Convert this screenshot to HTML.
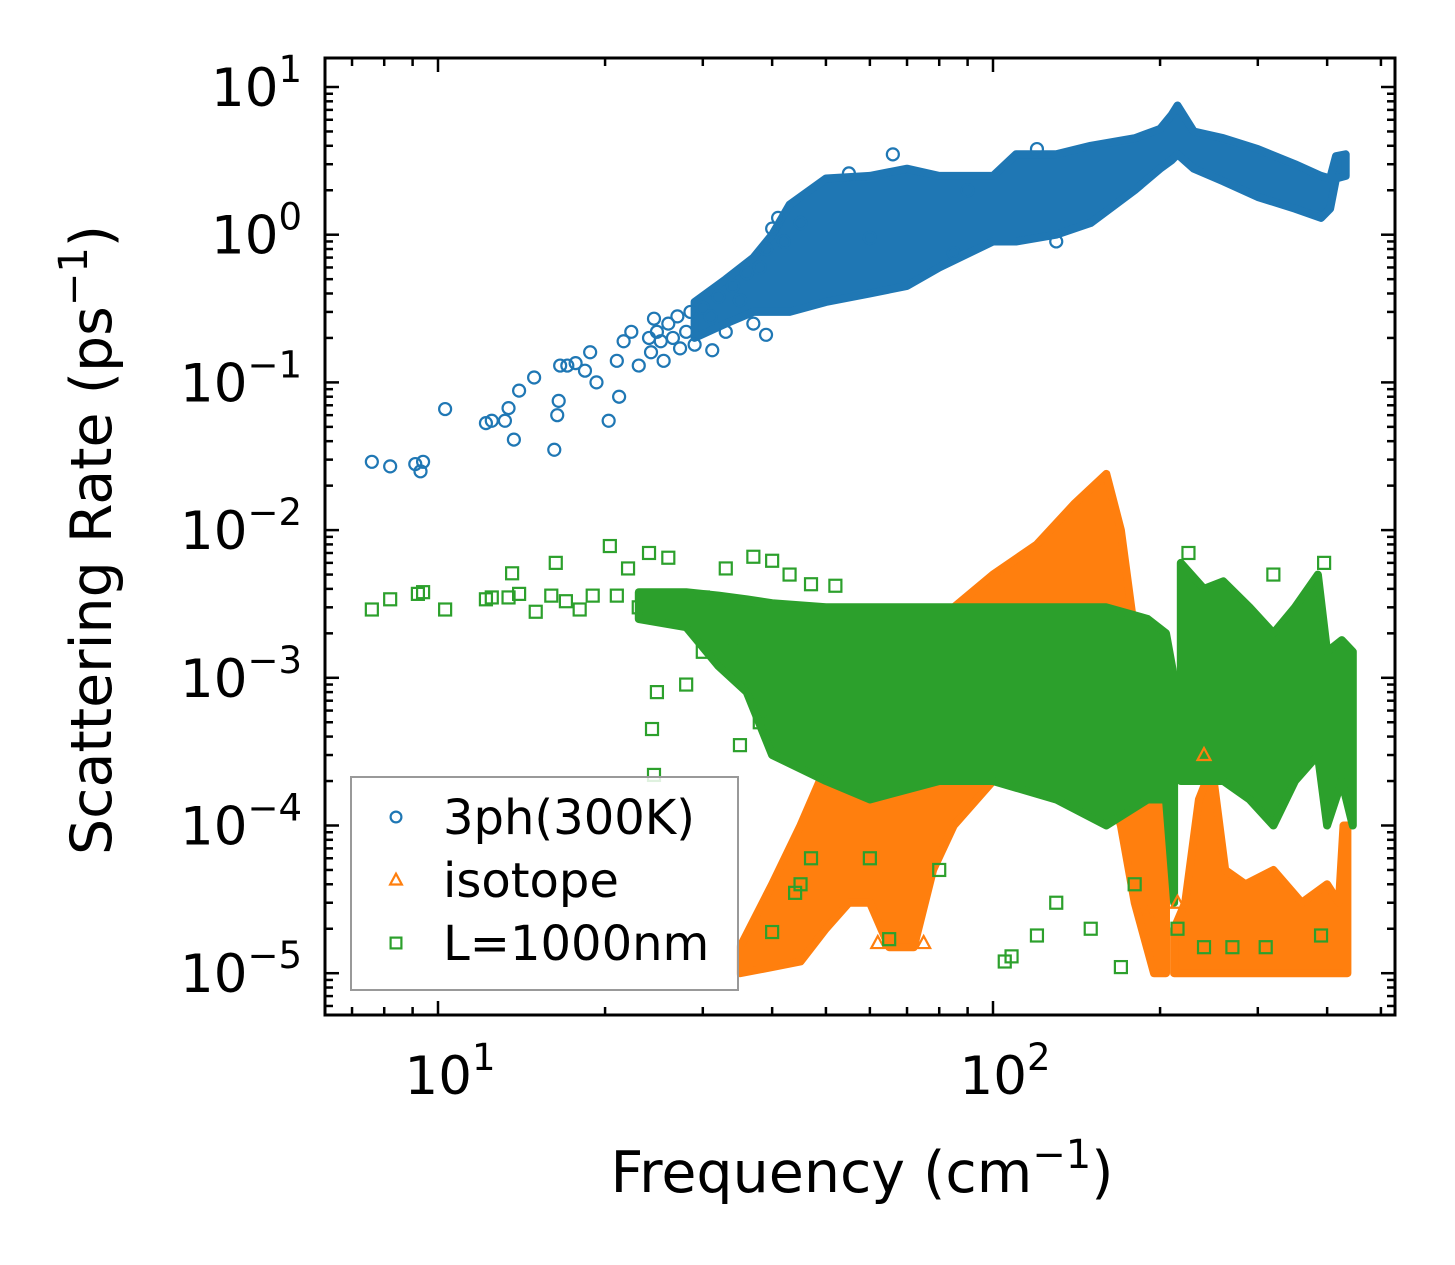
<!DOCTYPE html>
<html><head><meta charset="utf-8"><style>
html,body{margin:0;padding:0;background:#fff;}
svg{display:block;font-family:"DejaVu Sans","Liberation Sans",sans-serif;}
</style></head><body>
<svg id="chart" width="1455" height="1265" viewBox="0 0 1455 1265">
<g id="bands"></g>
<g id="marks"></g>
<g id="axes"></g>
<g id="legend"></g>
</svg>
<script>
// ---- data ----
const blueBand = [[29,0.2,0.35],[33,0.25,0.5],[37,0.3,0.7],[40,0.3,1.0],[43,0.3,1.6],[50,0.35,2.4],[60,0.4,2.5],[70,0.45,2.8],[80,0.6,2.5],[100,0.9,2.5],[110,0.9,3.5],[130,1.0,3.5],[150,1.2,4.0],[180,2.0,4.5],[200,2.8,5.2],[210,3.2,6.5],[215,3.5,7.5],[230,2.8,5.0],[260,2.3,4.5],[300,1.8,3.8],[350,1.5,3.0],[390,1.3,2.5],[405,1.5,2.4],[415,2.4,3.4],[432,2.5,3.5]];
const bluePts = [[7.6,0.029],[8.2,0.027],[9.1,0.028],[9.3,0.025],[9.4,0.029],[10.3,0.066],[12.2,0.053],[12.5,0.055],[13.2,0.055],[13.4,0.067],[13.7,0.041],[14,0.088],[14.9,0.108],[16.2,0.035],[16.4,0.06],[16.5,0.075],[16.6,0.13],[17.1,0.13],[17.7,0.135],[18.4,0.12],[18.8,0.16],[19.3,0.1],[20.3,0.055],[21,0.14],[21.2,0.08],[21.6,0.19],[22.3,0.22],[23,0.13],[24,0.2],[24.5,0.27],[25.5,0.14],[27.3,0.17],[31.2,0.165],[39,0.21],[24.2,0.16],[24.8,0.22],[25.2,0.19],[26,0.25],[26.5,0.2],[27,0.28],[28,0.22],[28.5,0.3],[29,0.18],[30,0.32],[31,0.28],[32,0.38],[33,0.22],[34,0.45],[35,0.36],[36,0.55],[37,0.25],[38,0.6],[39,0.8],[40,1.1],[41,1.3],[42,0.9],[60,0.95],[66,3.5],[85,0.75],[130,0.9],[45,1.2],[55,2.6],[90,2.0],[120,3.8]];
const orangeBand = [[35,1.0e-5,1.5e-5],[40,1.1e-5,4e-5],[45,1.2e-5,1e-4],[50,2e-5,2.5e-4],[55,3e-5,5e-4],[60,3e-5,4e-4],[65,1.5e-5,5e-4],[72,1.5e-5,6e-4],[78,5e-5,8e-4],[85,1e-4,3e-3],[100,2e-4,5e-3],[120,3e-4,8e-3],[140,3e-4,1.5e-2],[160,2e-4,2.4e-2],[170,1e-4,1e-2],[180,3e-5,2e-3],[195,1e-5,5e-4],[205,1e-5,1e-4]];
const orangeBand2 = [[212,1e-5,2e-5],[222,1e-5,3e-5],[235,1e-5,1.5e-4],[248,1e-5,2.5e-4],[262,1e-5,5e-5],[285,1e-5,4e-5],[320,1e-5,5e-5],[360,1e-5,3e-5],[400,1e-5,4e-5],[420,1e-5,3e-5],[428,1e-5,1e-4],[435,1e-5,1e-4]];
const orangePts = [[62,1.6e-5],[75,1.6e-5],[190,2.5e-5],[200,1.8e-5],[215,3e-5],[240,3e-4]];
const greenBand = [[23,2.5e-3,3.8e-3],[28,2.2e-3,3.8e-3],[32,1.2e-3,3.6e-3],[36,8e-4,3.4e-3],[40,3e-4,3.2e-3],[50,2e-4,3e-3],[60,1.5e-4,3e-3],[80,2e-4,3e-3],[100,2e-4,3e-3],[130,1.5e-4,3e-3],[160,1e-4,3e-3],[190,1.5e-4,2.5e-3],[205,1.5e-4,2e-3],[212,3e-5,1e-3]];
const greenBand2 = [[218,2e-4,6e-3],[240,2e-4,4e-3],[260,2e-4,4.5e-3],[290,1.5e-4,3e-3],[320,1e-4,2e-3],[350,2e-4,3e-3],[385,3e-4,5e-3],[400,1e-4,1.5e-3],[425,2e-4,1.8e-3],[445,1e-4,1.5e-3]];
const greenPts = [[7.6,0.0029],[8.2,0.0034],[9.2,0.0037],[9.4,0.0038],[10.3,0.0029],[12.2,0.0034],[12.5,0.0035],[13.4,0.0035],[13.6,0.0051],[14,0.0037],[15,0.0028],[16,0.0036],[16.3,0.006],[17,0.0033],[18,0.0029],[19,0.0036],[20.4,0.0078],[21,0.0036],[22,0.0055],[23,0.003],[24,0.007],[24.3,0.00045],[24.5,0.00022],[24.8,0.0008],[26,0.0065],[28,0.0009],[30,0.0035],[33,0.0055],[37,0.0066],[40,0.0062],[43,0.005],[47,0.0043],[52,0.0042],[90,0.0009],[105,1.2e-5],[108,1.3e-5],[120,1.8e-5],[150,2e-5],[170,1.1e-5],[270,1.5e-5],[240,1.5e-5],[310,1.5e-5],[390,1.8e-5],[215,2e-5],[395,0.006],[225,0.007],[320,0.005],[65,1.7e-5],[45,4e-5],[47,6e-5],[40,1.9e-5],[44,3.5e-5],[60,6e-5],[80,5e-5],[130,3e-5],[180,4e-5],[35,3.5e-4],[38,5e-4],[34,1.8e-3],[30,1.5e-3]];
const xTickVals = [10,100];
const xTickExp = ['1','2'];
const yTickVals = [1e1,1e0,1e-1,1e-2,1e-3,1e-4,1e-5];
const yTickExp = ['1','0','\u22121','\u22122','\u22123','\u22124','\u22125'];

// ---- scales ----
const PL=325,PR=1395,PT=58,PB=1015;
const X10=438, XDEC=555, Y1=87, YDEC=147.7;
const sx = v => X10 + (Math.log10(v)-1)*XDEC;
const sy = v => Y1 + (1-Math.log10(v))*YDEC;
const NS='http://www.w3.org/2000/svg';
function mk(tag, attrs, parent){const e=document.createElementNS(NS,tag);for(const k in attrs)e.setAttribute(k,attrs[k]);parent.appendChild(e);return e;}
const C={b:'#1f77b4',o:'#ff7f0e',g:'#2ca02c'};
const bands=document.getElementById('bands'), marks=document.getElementById('marks'), axes=document.getElementById('axes'), leg=document.getElementById('legend');

function band(data,color,name){
  const top=data.map(d=>sx(d[0]).toFixed(1)+','+sy(d[2]).toFixed(1));
  const bot=data.slice().reverse().map(d=>sx(d[0]).toFixed(1)+','+sy(d[1]).toFixed(1));
  const p=mk('polygon',{points:top.concat(bot).join(' '),fill:color,stroke:color,'stroke-width':8,'stroke-linejoin':'round'},bands);
  
  
}
function marker(kind,x,y,color,parent,s){
  s=s||1;let e;
  if(kind==='c') e=mk('circle',{cx:x,cy:y,r:6*s,fill:'none',stroke:color,'stroke-width':2.2},parent);
  else if(kind==='t') e=mk('polygon',{points:`${x},${y-7*s} ${x-6.5*s},${y+5*s} ${x+6.5*s},${y+5*s}`,fill:'none',stroke:color,'stroke-width':2.2},parent);
  else e=mk('rect',{x:x-6*s,y:y-6*s,width:12*s,height:12*s,fill:'none',stroke:color,'stroke-width':2.2},parent);
  return e;
}
band(blueBand,C.b,'blue-cloud');
band(orangeBand,C.o,'orange-cloud');
band(orangeBand2,C.o,'orange-cloud-high');
band(greenBand,C.g,'green-cloud');
band(greenBand2,C.g,'green-cloud-high');
bluePts.forEach(d=>{const e=marker('c',sx(d[0]),sy(d[1]),C.b,marks);
  
  });
orangePts.forEach(d=>{const e=marker('t',sx(d[0]),sy(d[1]),C.o,marks);
  
  });
greenPts.forEach(d=>{const e=marker('s',sx(d[0]),sy(d[1]),C.g,marks);
  
  });

// ---- axes ----
const frame=mk('rect',{x:PL,y:PT,width:PR-PL,height:PB-PT,fill:'none',stroke:'#000','stroke-width':3},axes);


function tickX(px,len){mk('line',{x1:px,x2:px,y1:PB,y2:PB-len,stroke:'#000','stroke-width':2.5},axes);mk('line',{x1:px,x2:px,y1:PT,y2:PT+len,stroke:'#000','stroke-width':2.5},axes);}
function tickY(py,len){mk('line',{x1:PL,x2:PL+len,y1:py,y2:py,stroke:'#000','stroke-width':2.5},axes);mk('line',{x1:PR,x2:PR-len,y1:py,y2:py,stroke:'#000','stroke-width':2.5},axes);}
for(let d=0;d<3;d++)for(let m=1;m<10;m++){const v=m*Math.pow(10,d);const px=sx(v);if(px<PL+1||px>PR-1)continue;tickX(px,m===1?14:8);}
for(let d=-6;d<2;d++)for(let m=1;m<10;m++){const v=m*Math.pow(10,d);const py=sy(v);if(py<PT+1||py>PB-1)continue;tickY(py,m===1?14:8);}
xTickVals.forEach((v,i)=>{const t=mk('text',{x:sx(v)+12,y:1094,'font-size':53,'text-anchor':'middle'},axes);
  
  
  t.appendChild(document.createTextNode('10'));const s=mk('tspan',{dy:-24,'font-size':37},t);s.textContent=xTickExp[i];});
yTickVals.forEach((v,i)=>{const t=mk('text',{x:302,y:sy(v)+19,'font-size':53,'text-anchor':'end'},axes);
  
  
  t.appendChild(document.createTextNode('10'));const s=mk('tspan',{dy:-24,'font-size':37},t);s.textContent=yTickExp[i];});
const xl=mk('text',{x:862,y:1192,'font-size':57,'text-anchor':'middle'},axes);


xl.appendChild(document.createTextNode('Frequency (cm'));
let s1=mk('tspan',{dy:-24,'font-size':40},xl);s1.textContent='\u22121';
let s2=mk('tspan',{dy:24},xl);s2.textContent=')';
const yl=mk('text',{x:0,y:0,'font-size':57,'text-anchor':'middle',transform:'translate(111,540) rotate(-90)'},axes);


yl.appendChild(document.createTextNode('Scattering Rate (ps'));
let s3=mk('tspan',{dy:-24,'font-size':40},yl);s3.textContent='\u22121';
let s4=mk('tspan',{dy:24},yl);s4.textContent=')';

// ---- legend ----
const box=mk('rect',{x:351,y:777,width:387,height:213,fill:'#fff','fill-opacity':0.85,stroke:'#999','stroke-width':2},leg);


const labels=['3ph(300K)','isotope','L=1000nm'], kinds=['c','t','s'], cols=[C.b,C.o,C.g];
labels.forEach((l,i)=>{const cy=817+i*63;
  const m=marker(kinds[i],396,cy,cols[i],leg,0.9);
  
  
  const t=mk('text',{x:443,y:cy+17,'font-size':48},leg);
  
  
  t.textContent=l;});
</script>
</body></html>
